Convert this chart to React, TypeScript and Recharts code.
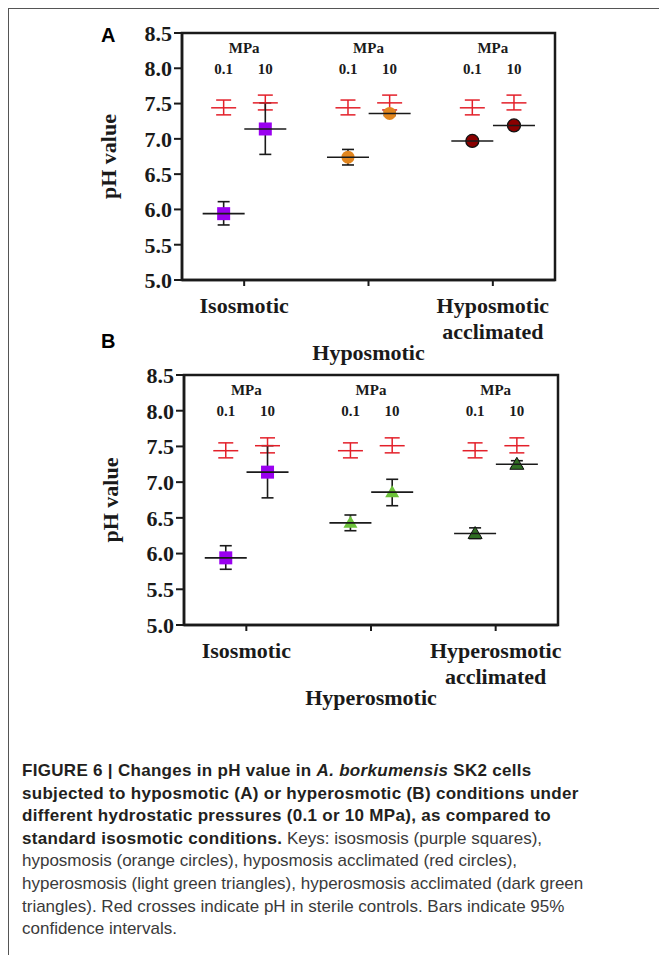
import React from 'react'
import { ScatterChart, Scatter, XAxis, YAxis, ErrorBar, ReferenceArea } from 'recharts'

const Y_TICKS = [5.0, 5.5, 6.0, 6.5, 7.0, 7.5, 8.0, 8.5]
const GROUP_TICKS = [1, 2, 3]
const PRESSURES = ['0.1', '10']
const panelACategories = ['Isosmotic', 'Hyposmotic', 'Hyposmotic\nacclimated']
const panelBCategories = ['Isosmotic', 'Hyperosmotic', 'Hyperosmotic\nacclimated']

// values at 0.1 and 10 MPa: mean, lower and upper 95% CI
const isoMean = [5.94, 7.14]
const isoLow = [5.78, 6.78]
const isoHigh = [6.11, 7.51]

const hypoMean = [6.74, 7.36]
const hypoLow = [6.63, 7.33]
const hypoHigh = [6.85, 7.39]

const hypoAccMean = [6.97, 7.19]
const hypoAccLow = [6.94, 7.16]
const hypoAccHigh = [7.0, 7.22]

const hyperMean = [6.43, 6.86]
const hyperLow = [6.32, 6.67]
const hyperHigh = [6.54, 7.04]

const hyperAccMean = [6.28, 7.25]
const hyperAccLow = [6.21, 7.21]
const hyperAccHigh = [6.36, 7.3]

// sterile controls (red crosses)
const ctrlMean = [7.44, 7.51]
const ctrlLow = [7.34, 7.41]
const ctrlHigh = [7.55, 7.62]

const SERIF = '"Liberation Serif", "Times New Roman", serif'
const SANS = '"Liberation Sans", Arial, sans-serif'
const RED = '#e3202a'
const INK = '#1a1a1a'

const pressureOffset = [-0.165, 0.17]

type Pt = { x: number; y: number; err: number[] }

function buildPoints(group: number, mean: number[], low: number[], high: number[]): Pt[] {
  return mean.map((m, i) => ({
    x: GROUP_TICKS[group] + pressureOffset[i],
    y: m,
    err: [m - low[i], high[i] - m],
  }))
}

const controlPoints = GROUP_TICKS.flatMap((_, g) => buildPoints(g, ctrlMean, ctrlLow, ctrlHigh))
const labelPoints = GROUP_TICKS.map((g) => ({ x: g, y: 8.5 }))

const square = (color: string) => (p: any) => (
  <rect x={p.cx - 6.5} y={p.cy - 6.5} width={13} height={13} fill={color} />
)
const dot = (color: string, outline?: string) => (p: any) => (
  <circle cx={p.cx} cy={p.cy} r={6.5} fill={color} stroke={outline || 'none'} strokeWidth={1.3} />
)
const triangle = (color: string, outline?: string) => (p: any) => (
  <path
    d={`M${p.cx},${p.cy - 7} L${p.cx + 7},${p.cy + 5} L${p.cx - 7},${p.cy + 5} Z`}
    fill={color}
    stroke={outline || 'none'}
    strokeWidth={1}
  />
)
const meanLine = (p: any) => (
  <line x1={p.cx - 21} x2={p.cx + 21} y1={p.cy} y2={p.cy} stroke={INK} strokeWidth={1.6} />
)
const ctrlLine = (p: any) => (
  <line x1={p.cx - 12.5} x2={p.cx + 12.5} y1={p.cy} y2={p.cy} stroke={RED} strokeWidth={1.5} />
)
const pressureLabels = (p: any) => (
  <g fontFamily={SERIF} fontWeight="bold" fontSize={15} fill={INK} textAnchor="middle">
    <text x={p.cx} y={p.cy + 20}>MPa</text>
    {PRESSURES.map((t, i) => (
      <text key={t} x={p.cx + pressureOffset[i] * 124} y={p.cy + 41}>
        {t}
      </text>
    ))}
  </g>
)

type Series = { pts: Pt[]; shape: (p: any) => React.ReactElement }

function Panel({
  top,
  height,
  margin,
  categories,
  series,
}: {
  top: number
  height: number
  margin: { top: number; right: number; bottom: number; left: number }
  categories: string[]
  series: Series[]
}) {
  const CategoryTick = (p: any) => {
    const lines = categories[p.payload.value - 1].split('\n')
    const dy = p.index === 1 ? 72 : 25
    return (
      <g fontFamily={SERIF} fontWeight="bold" fontSize={22} fill={INK} textAnchor="middle">
        {lines.map((l, i) => (
          <text key={l} x={p.x} y={p.y + dy + i * 26}>
            {l}
          </text>
        ))}
      </g>
    )
  }
  return (
    <div style={{ position: 'absolute', left: 0, top }}>
      <ScatterChart width={659} height={height} margin={margin}>
        <XAxis
          type="number"
          dataKey="x"
          domain={[0.5, 3.5]}
          ticks={GROUP_TICKS}
          tick={CategoryTick}
          tickSize={6}
          height={60}
          axisLine={{ stroke: INK, strokeWidth: 2.5 }}
          tickLine={{ stroke: INK, strokeWidth: 2 }}
        />
        <YAxis
          type="number"
          dataKey="y"
          domain={[5, 8.5]}
          ticks={Y_TICKS}
          tickFormatter={(v: number) => v.toFixed(1)}
          tickSize={8}
          width={90}
          tick={{ fontFamily: SERIF, fontWeight: 'bold', fontSize: 22, fill: INK }}
          axisLine={{ stroke: INK, strokeWidth: 2.5 }}
          tickLine={{ stroke: INK, strokeWidth: 2 }}
          label={{
            content: ({ viewBox }: any) => (
              <text
                transform={`translate(${viewBox.x + 24},${viewBox.y + viewBox.height / 2}) rotate(-90)`}
                textAnchor="middle"
                fontFamily={SERIF}
                fontWeight="bold"
                fontSize={22}
                fill={INK}
              >
                pH value
              </text>
            ),
          }}
        />
        <ReferenceArea x1={0.5} x2={3.5} y1={5} y2={8.5} fill="none" stroke={INK} strokeWidth={2.5} />
        <Scatter data={labelPoints} shape={pressureLabels} isAnimationActive={false} />
        <Scatter data={controlPoints} shape={ctrlLine} isAnimationActive={false}>
          <ErrorBar dataKey="err" direction="y" width={7.5} stroke={RED} strokeWidth={1.5} />
        </Scatter>
        {series.map((s, i) => (
          <Scatter key={`m${i}`} data={s.pts} shape={s.shape} isAnimationActive={false} />
        ))}
        {series.map((s, i) => (
          <Scatter key={`e${i}`} data={s.pts} shape={meanLine} isAnimationActive={false}>
            <ErrorBar dataKey="err" direction="y" width={6} stroke={INK} strokeWidth={1.6} />
          </Scatter>
        ))}
      </ScatterChart>
    </div>
  )
}

const seriesA: Series[] = [
  { pts: buildPoints(0, isoMean, isoLow, isoHigh), shape: square('#9a00f0') },
  { pts: buildPoints(1, hypoMean, hypoLow, hypoHigh), shape: dot('#e2861f') },
  { pts: buildPoints(2, hypoAccMean, hypoAccLow, hypoAccHigh), shape: dot('#8a0000', '#111') },
]
const seriesB: Series[] = [
  { pts: buildPoints(0, isoMean, isoLow, isoHigh), shape: square('#9a00f0') },
  { pts: buildPoints(1, hyperMean, hyperLow, hyperHigh), shape: triangle('#6cc23a') },
  { pts: buildPoints(2, hyperAccMean, hyperAccLow, hyperAccHigh), shape: triangle('#2f6e22', '#111') },
]

const bold = { fontWeight: 'bold' as const, color: '#231f20', letterSpacing: '0.3px' }

export default function App() {
  return (
    <div style={{ position: 'absolute', left: 0, top: 0, width: 659, height: 955, background: '#fff' }}>
      <div
        style={{
          position: 'absolute',
          left: 8,
          top: 8,
          right: 0,
          bottom: 0,
          borderTop: '1.5px solid #555',
          borderLeft: '1.5px solid #555',
        }}
      />
      <Panel
        top={0}
        height={370}
        margin={{ top: 33, right: 104, bottom: 30, left: 92 }}
        categories={panelACategories}
        series={seriesA}
      />
      <Panel
        top={330}
        height={390}
        margin={{ top: 45, right: 101, bottom: 35, left: 94 }}
        categories={panelBCategories}
        series={seriesB}
      />
      <div style={{ position: 'absolute', left: 101, top: 24, fontFamily: SANS, fontWeight: 'bold', fontSize: 20 }}>A</div>
      <div style={{ position: 'absolute', left: 101, top: 330, fontFamily: SANS, fontWeight: 'bold', fontSize: 20 }}>B</div>
      <div
        style={{
          position: 'absolute',
          left: 22,
          top: 760,
          fontFamily: SANS,
          fontSize: 17,
          lineHeight: '22.6px',
          color: '#3a3a3a',
          whiteSpace: 'nowrap',
        }}
      >
        <div style={bold}>
          FIGURE 6 | Changes in pH value in <i>A. borkumensis</i> SK2 cells
        </div>
        <div style={bold}>subjected to hyposmotic (A) or hyperosmotic (B) conditions under</div>
        <div style={bold}>different hydrostatic pressures (0.1 or 10 MPa), as compared to</div>
        <div>
          <span style={bold}>standard isosmotic conditions.</span> Keys: isosmosis (purple squares),
        </div>
        <div>hyposmosis (orange circles), hyposmosis acclimated (red circles),</div>
        <div>hyperosmosis (light green triangles), hyperosmosis acclimated (dark green</div>
        <div>triangles). Red crosses indicate pH in sterile controls. Bars indicate 95%</div>
        <div>confidence intervals.</div>
      </div>
    </div>
  )
}
